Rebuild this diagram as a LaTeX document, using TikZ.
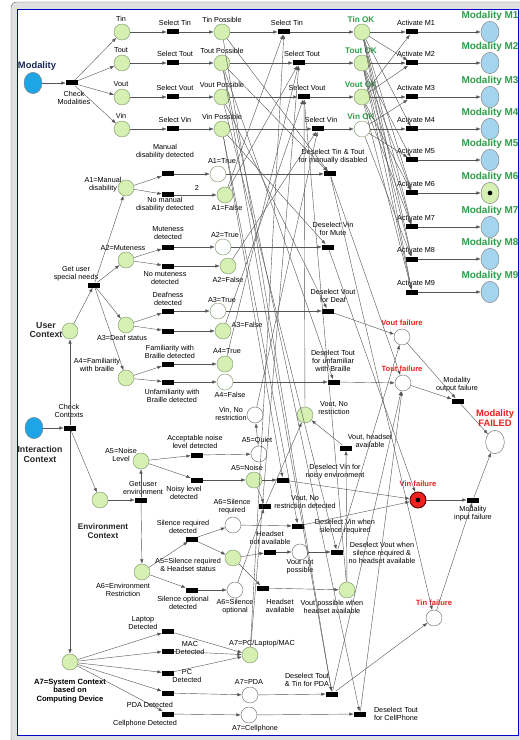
\documentclass[tikz,border=0pt]{standalone}
\usepackage{fontspec}
\setmainfont{Liberation Sans}
\usetikzlibrary{arrows.meta, positioning, shapes.geometric, calc}

\definecolor{placegreen}{HTML}{D6F0B4}
\definecolor{placeedge}{HTML}{7F9A6A}
\definecolor{ctxblue}{HTML}{1EA5E6}
\definecolor{modblue}{HTML}{A5D5EE}
\definecolor{okgreen}{HTML}{2E9E48}
\definecolor{failred}{HTML}{EE2020}
\definecolor{arcgray}{HTML}{555555}
\definecolor{navytext}{HTML}{1A2A5A}

\tikzset{
  place/.style={circle, draw=black!55, line width=0.4pt, fill=white, minimum size=0.48cm, inner sep=0pt},
  gplace/.style={place, fill=placegreen, draw=placeedge},
  ctxplace/.style={ellipse, draw=black!50, fill=ctxblue, minimum width=0.54cm, minimum height=0.64cm, inner sep=0pt},
  modplace/.style={ellipse, draw=black!50, fill=modblue, minimum width=0.54cm, minimum height=0.64cm, inner sep=0pt},
  token/.style={path picture={\fill[black] (path picture bounding box.center) circle (0.07cm);}},
  trans/.style={rectangle, fill=black, minimum width=0.36cm, minimum height=0.15cm, inner sep=0pt},
  arc/.style={draw=arcgray, line width=0.35pt, -{Latex[length=1.3mm,width=1mm]}},
  lbl/.style={font=\fontsize{6.2}{6.7}\selectfont, align=center, inner sep=0pt, text=black},
  biglbl/.style={font=\fontsize{7.5}{8.5}\selectfont\bfseries, align=center, inner sep=0pt, text=black!85},
  oklbl/.style={font=\fontsize{7}{8}\selectfont\bfseries, inner sep=0pt, text=okgreen},
  modlbl/.style={font=\fontsize{8.5}{9}\selectfont\bfseries, inner sep=0pt, text=okgreen},
  faillbl/.style={font=\fontsize{6.5}{7.5}\selectfont\bfseries, align=center, inner sep=0pt, text=failred},
}

\begin{document}
\begin{tikzpicture}[x=0.03cm, y=-0.03cm]
\useasboundingbox (0,0) rectangle (519,740);
% window frame
\draw[black!55, fill=black!12, rounded corners=5pt] (11,2) rectangle (532,745);
\draw[blue!80!black, fill=white, line width=0.6pt] (17,9) rectangle (518,735);

% ---------- modality selection
\node[ctxplace] (mod) at (33,83) {};
\node[biglbl, text=navytext, font=\fontsize{8}{9}\selectfont\bfseries] (lmod) at (37,66) {Modality};
\node[trans] (chkM) at (72,83) {};
\node[lbl] (lchkM) at (74,98) {Check\\Modalities};
\draw[arc] (mod) -- (chkM);

\foreach \m/\y/\sx/\fc in {Tin/32/284/placegreen, Tout/63/299/placegreen, Vout/97/304/placegreen, Vin/129/318/white} {
  \node[gplace] (p\m) at (122,\y) {};
  \node[lbl] (lp\m) at (121,\y-13) {\m};
  \node[trans] (s\m) at (173,\y) {};
  \node[lbl] (ls\m) at (175,\y-9) {Select \m};
  \node[gplace] (pos\m) at (222,\y) {};
  \node[lbl] (lpos\m) at (222,\y-12) {\m\ Possible};
  \node[trans] (ss\m) at (\sx,\y) {};
  \node[lbl] (lss\m) at (\sx+3,\y-9) {Select \m};
  \node[gplace, fill=\fc] (ok\m) at (362,\y) {};
  \node[oklbl] (lok\m) at (361,\y-12) {\m\ OK};
  \draw[arc] (chkM) -- (p\m);
  \draw[arc] (p\m) -- (s\m);
  \draw[arc] (s\m) -- (pos\m);
  \draw[arc] (pos\m) -- (ss\m);
  \draw[arc] (ss\m) -- (ok\m);
}

% activation of the nine modalities
\foreach \k/\y in {1/32, 2/63, 3/97, 4/129, 5/160, 6/193, 7/227, 8/259, 9/292} {
  \node[trans] (act\k) at (412,\y) {};
  \node[lbl] (lact\k) at (416,\y-9) {Activate M\k};
  \ifnum\k=6
    \node[modplace, fill=placegreen, token] (m\k) at (490,\y) {};
  \else
    \node[modplace] (m\k) at (490,\y) {};
  \fi
  \node[modlbl] (lm\k) at (490,\y-16) {Modality M\k};
  \draw[arc] (act\k) -- (m\k);
}
\foreach \a/\b in {okTin/act1, okVout/act1, okTin/act2, okTout/act2, okVout/act2,
    okVout/act3, okVin/act3, okTin/act4, okVin/act4, okVin/act5, okTout/act5,
    okTin/act6, okTout/act6, okVout/act6, okTin/act7, okTout/act7, okVout/act7,
    okTin/act8, okTout/act8, okVin/act8, okTin/act9, okTout/act9, okVout/act9}
  \draw[arc] (\a) -- (\b);

% ---------- user context
\node[gplace] (userC) at (70,331) {};
\node[biglbl] (luserC) at (46,330) {User\\Context};
\node[trans] (gusn) at (94,285) {};
\node[lbl] (lgusn) at (76,274) {Get user\\special needs};
\draw[arc] (userC) -- (gusn);

\foreach \n/\y/\ty/\fy/\tx/\fx/\tc/\fc in {1/188/174/195/218/225/white/placegreen,
    2/260/247/266/223/228/white/placegreen, 3/325/311/331/218/223/white/placegreen,
    4/378/364/382/225/225/placegreen/white} {
  \node[gplace] (A\n) at (126,\y) {};
  \node[trans] (tT\n) at (168,\ty) {};
  \node[trans] (tF\n) at (168,\fy) {};
  \node[gplace, fill=\tc] (AT\n) at (\tx,\ty) {};
  \node[gplace, fill=\fc] (AF\n) at (\fx,\fy) {};
  \draw[arc] (gusn) -- (A\n);
  \draw[arc] (A\n) -- (tT\n);
  \draw[arc] (A\n) -- (tF\n);
  \draw[arc] (tT\n) -- (AT\n);
  \draw[arc] (tF\n) -- (AF\n);
}
\node[lbl] (lw2) at (197,188) {2};
\node[lbl] (lA1) at (103,185) {A1=Manual\\disability};
\node[lbl] (lA2) at (123,248) {A2=Muteness};
\node[lbl] (lA3) at (122,338) {A3=Deaf status};
\node[lbl] (lA4) at (97,365) {A4=Familiarity\\with braille};
\node[lbl] (ltT1) at (165,152) {Manual\\disability detected};
\node[lbl] (ltF1) at (165,205) {No manual\\disability detected};
\node[lbl] (ltT2) at (168,233) {Muteness\\detected};
\node[lbl] (ltF2) at (165,278) {No muteness\\detected};
\node[lbl] (ltT3) at (168,299) {Deafness\\detected};
\node[lbl] (ltT4) at (170,352) {Familiarity with\\Braille detected};
\node[lbl] (ltF4) at (172,396) {Unfamiliarity with\\Braille detected};
\node[lbl] (lAT1) at (222,161) {A1=True};
\node[lbl] (lAF1) at (227,208) {A1=False};
\node[lbl] (lAT2) at (225,235) {A2=True};
\node[lbl] (lAF2) at (228,280) {A2=False};
\node[lbl] (lAT3) at (222,300) {A3=True};
\node[lbl] (lAF3) at (247,325) {A3=False};
\node[lbl] (lAT4) at (227,351) {A4=True};
\node[lbl] (lAF4) at (230,395) {A4=False};

% deselection for special needs
\node[trans] (dTT) at (330,174) {};
\node[lbl] (ldTT) at (333,157) {Deselect Tin \& Tout\\for manually disabled};
\node[trans] (dVinM) at (328,247) {};
\node[lbl] (ldVinM) at (333,229) {Deselect Vin\\for Mute};
\node[trans] (dVoutD) at (328,311) {};
\node[lbl] (ldVoutD) at (333,296) {Deselect Vout\\for Deaf};
\node[trans] (dToutB) at (334,382) {};
\node[lbl] (ldToutB) at (333,361) {Deselect Tout\\for unfamiliar\\with Braille};

% ---------- interaction context
\node[ctxplace] (intC) at (34,428) {};
\node[biglbl] (lintC) at (40,454) {Interaction\\Context};
\node[trans] (chkC) at (70,428) {};
\node[lbl] (lchkC) at (69,411) {Check\\Contexts};

% environment
\node[gplace] (envC) at (100,500) {};
\node[biglbl, font=\fontsize{7}{8}\selectfont\bfseries] (lenvC) at (103,531) {Environment\\Context};
\node[trans] (gue) at (141,500) {};
\node[lbl] (lgue) at (143,488) {Get user\\environment};
\node[gplace] (A5) at (141,461) {};
\node[lbl] (lA5) at (121,455) {A5=Noise\\Level};
\node[gplace] (A6) at (142,572) {};
\node[lbl] (lA6) at (123,590) {A6=Environment\\Restriction};

\node[trans] (tAcc) at (197,455) {};
\node[lbl] (ltAcc) at (195,442) {Acceptable noise\\level detected};
\node[trans] (tNoisy) at (197,480) {};
\node[lbl] (ltNoisy) at (184,493) {Noisy level\\detected};
\node[place] (A5Q) at (259,454) {};
\node[lbl] (lA5Q) at (257,441) {A5=Quiet};
\node[gplace] (A5N) at (254,480) {};
\node[lbl] (lA5N) at (247,468) {A5=Noise};
\node[place] (vinNR) at (255,415) {};
\node[lbl] (lvinNR) at (231,414) {Vin, No\\restriction};
\node[gplace] (voutNR) at (305,415) {};
\node[lbl] (lvoutNR) at (334,408) {Vout, No\\restriction};
\node[trans] (dVinN) at (283,480) {};
\node[lbl] (ldVinN) at (335,472) {Deselect Vin for\\noisy environment};
\node[trans] (tVoutNRd) at (265,506) {};
\node[lbl] (ltVoutNRd) at (305,502) {Vout, No\\restriction detected};
\node[trans] (tVoutHA) at (346,448) {};
\node[lbl] (ltVoutHA) at (370,441) {Vout, headset\\available};

\node[trans] (tSR) at (192,539) {};
\node[lbl] (ltSR) at (183,527) {Silence required\\detected};
\node[place] (A6SR) at (233,525) {};
\node[lbl] (lA6SR) at (232,507) {A6=Silence\\required};
\node[trans] (dVinS) at (298,526) {};
\node[lbl] (ldVinS) at (345,527) {Deselect Vin when\\silence required};
\node[gplace] (A5SH) at (233,558) {};
\node[lbl] (lA5SH) at (188,565) {A5=Silence required\\\& Headset status};
\node[trans] (tHNA) at (270,552) {};
\node[lbl] (ltHNA) at (270,538) {Headset\\not available};
\node[place] (voutNP) at (300,552) {};
\node[lbl] (lvoutNP) at (300,567) {Vout not\\possible};
\node[trans] (dVoutS) at (337,552) {};
\node[lbl] (ldVoutS) at (382,553) {Deselect Vout when\\silence required \&\\no headset available};
\node[trans] (tSO) at (192,590) {};
\node[lbl] (ltSO) at (183,603) {Silence optional\\detected};
\node[place] (A6SO) at (235,590) {};
\node[lbl] (lA6SO) at (235,607) {A6=Silence\\optional};
\node[trans] (tHA) at (263,588) {};
\node[lbl] (ltHA) at (280,606) {Headset\\available};
\node[gplace] (voutPH) at (347,590) {};
\node[lbl] (lvoutPH) at (332,607) {Vout possible when\\headset available};

% computing device
\node[gplace] (A7) at (70,662) {};
\node[lbl, font=\fontsize{6.5}{7.3}\selectfont\bfseries] (lA7) at (70,691) {A7=System Context\\based on\\Computing Device};
\foreach \t/\y in {Lap/631, Mac/651, PC/673, PDA/693, Cell/714} {
  \node[trans] (t\t) at (168,\y) {};
  \draw[arc] (A7) -- (t\t);
}
\node[lbl] (ltLap) at (143,623) {Laptop\\Detected};
\node[lbl] (ltMac) at (190,648) {MAC\\Detected};
\node[lbl] (ltPC) at (187,676) {PC\\Detected};
\node[lbl] (ltPDA) at (150,705) {PDA Detected};
\node[lbl] (ltCell) at (145,724) {Cellphone Detected};
\node[gplace] (A7PC) at (250,655) {};
\node[lbl] (lA7PC) at (262,644) {A7=PC/Laptop/MAC};
\node[place] (A7PDA) at (250,695) {};
\node[lbl] (lA7PDA) at (249,682) {A7=PDA};
\node[place] (A7Cell) at (249,715) {};
\node[lbl] (lA7Cell) at (255,729) {A7=Cellphone};
\node[trans] (dPDA) at (332,694) {};
\node[lbl] (ldPDA) at (307,680) {Deselect Tout\\\& Tin for PDA};
\node[trans] (dCell) at (360,714) {};
\node[lbl] (ldCell) at (396,714) {Deselect Tout\\for CellPhone};

% ---------- failures
\node[place] (fVout) at (402,337) {};
\node[faillbl] (lfVout) at (402,323) {Vout failure};
\node[place] (fTout) at (403,383) {};
\node[faillbl] (lfTout) at (402,369) {Tout failure};
\node[trans] (tOutFail) at (458,401) {};
\node[lbl] (ltOutFail) at (457,385) {Modality\\output failure};
\node[place, ellipse, minimum width=0.56cm, minimum height=0.7cm] (failed) at (495,442) {};
\node[faillbl, font=\fontsize{8}{9}\selectfont\bfseries] (lfailed) at (495,418) {Modality\\FAILED};
\node[place, fill=failred, draw=red!40!black, line width=0.8pt, token] (fVin) at (418,500) {};
\node[faillbl] (lfVin) at (418,484) {Vin failure};
\node[trans] (tInFail) at (473,500) {};
\node[lbl] (ltInFail) at (473,514) {Modality\\input failure};
\node[place] (fTin) at (434,618) {};
\node[faillbl] (lfTin) at (434,603) {Tin failure};

% ---------- arcs
\foreach \a/\b in {intC/chkC, chkC/userC, chkC/envC, chkC/A7,
    envC/gue, gue/A5, gue/A6, A5/tAcc, A5/tNoisy, tAcc/A5Q, tNoisy/A5N,
    A5Q/vinNR, A5N/tVoutNRd, A6SO/tVoutNRd, tVoutNRd/voutNR, tVoutHA/voutNR, voutPH/tVoutHA,
    A6/tSR, A6/tSO, tSR/A6SR, tSR/A5SH, tSO/A6SO, A5SH/tHNA, A5SH/tHA, tHNA/voutNP, tHA/voutPH,
    tLap/A7PC, tMac/A7PC, tPC/A7PC, tPDA/A7PDA, tCell/A7Cell}
  \draw[arc] (\a) -- (\b);
% conditions that deselect a modality
\foreach \a/\b in {AT1/dTT, AT2/dVinM, AT3/dVoutD, AF4/dToutB, A5N/dVinN, A6SR/dVinS,
    voutNP/dVoutS, A7PDA/dPDA, A7Cell/dCell,
    posTin/dTT, posTout/dTT, posVin/dVinM, posVout/dVoutD, posTout/dToutB, posVin/dVinN,
    posVin/dVinS, posVout/dVoutS, posTin/dPDA, posTout/dPDA, posTout/dCell}
  \draw[arc] (\a) -- (\b);
% conditions that confirm a modality
\foreach \a/\b in {AF1/ssTin, AF1/ssTout, AF2/ssVin, AF3/ssVout, AT4/ssTout, vinNR/ssVin,
    voutNR/ssVout, voutPH/ssVout, A7PC/ssTin, A7PC/ssTout}
  \draw[arc] (\a) -- (\b);
% failures
\foreach \a/\b in {dTT/fTin, dTT/fTout, dVinM/fVin, dVoutD/fVout, dToutB/fTout, dVinN/fVin,
    dVinS/fVin, dVoutS/fVout, dPDA/fTin, dPDA/fTout, dCell/fTout,
    fVout/tOutFail, fTout/tOutFail, tOutFail/failed, fVin/tInFail, fTin/tInFail, tInFail/failed}
  \draw[arc] (\a) -- (\b);
\end{tikzpicture}
\end{document}
